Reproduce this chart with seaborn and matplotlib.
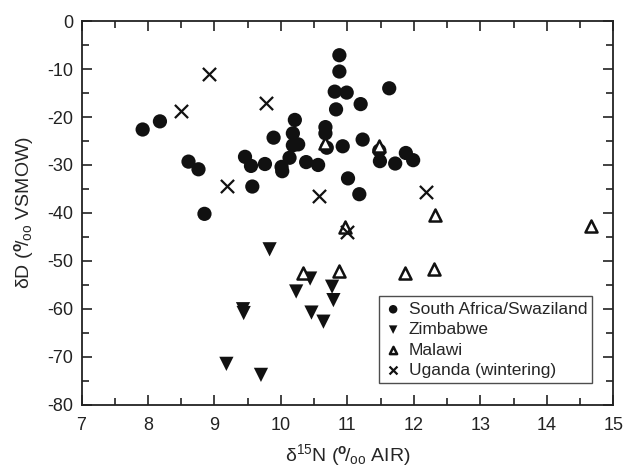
import matplotlib
matplotlib.use("Agg")
import matplotlib.pyplot as plt
import seaborn as sns
import numpy as np
from matplotlib.ticker import MultipleLocator

sns.set_style("ticks")
plt.rcParams['font.family'] = ['Liberation Sans', 'DejaVu Sans']
plt.rcParams['mathtext.fontset'] = 'custom'
plt.rcParams['mathtext.rm'] = 'Liberation Sans'
plt.rcParams['mathtext.it'] = 'Liberation Sans'
plt.rcParams['mathtext.bf'] = 'Liberation Sans:bold'
plt.rcParams['axes.unicode_minus'] = False

# South Africa/Swaziland
sa_x = [7.92, 8.18, 8.61, 8.76, 8.85, 9.46, 9.55, 9.57, 9.76, 9.89, 10.01, 10.02,
        10.13, 10.21, 10.18, 10.18, 10.26, 10.38, 10.56, 10.67, 10.67, 10.69, 10.88,
        10.88, 10.81, 10.99, 10.83, 11.20, 11.63, 10.93, 11.23, 11.48, 11.49, 11.72,
        11.88, 11.99, 11.01, 11.18]
sa_y = [-22.6, -20.9, -29.3, -30.9, -40.2, -28.3, -30.2, -34.5, -29.8, -24.3, -30.4, -31.3,
        -28.5, -20.6, -23.4, -25.9, -25.7, -29.4, -30.0, -22.1, -23.4, -26.4, -7.1,
        -10.5, -14.7, -14.9, -18.4, -17.3, -14.0, -26.1, -24.7, -27.0, -29.2, -29.7,
        -27.5, -29.0, -32.8, -36.1]
# Zimbabwe
zw_x = [9.83, 9.43, 9.44, 9.18, 9.70, 10.44, 10.23, 10.77, 10.79, 10.46, 10.64]
zw_y = [-47.6, -60.1, -60.9, -71.5, -73.8, -53.7, -56.4, -55.4, -58.2, -60.8, -62.7]
# Malawi
mw_x = [10.67, 11.48, 12.32, 14.67, 10.97, 10.33, 10.88, 11.87, 12.30]
mw_y = [-25.5, -26.1, -40.4, -42.7, -43.0, -52.6, -52.1, -52.5, -51.8]
# Uganda (wintering)
ug_x = [8.50, 8.92, 9.77, 9.19, 10.57, 12.18, 10.99]
ug_y = [-18.8, -11.1, -17.0, -34.3, -36.5, -35.7, -43.9]

labels = ["South Africa/Swaziland", "Zimbabwe", "Malawi", "Uganda (wintering)"]

fig = plt.figure(figsize=(6.27, 4.71), dpi=100)
ax = fig.add_axes([0.130, 0.141, 0.848, 0.814])

sns.scatterplot(x=sa_x, y=sa_y, marker='o', s=105, color='#111111', edgecolor='none',
                label=labels[0], ax=ax, zorder=3)
sns.scatterplot(x=zw_x, y=zw_y, marker='v', s=105, color='#111111', edgecolor='none',
                label=labels[1], ax=ax, zorder=3)
sns.scatterplot(x=mw_x, y=mw_y, marker='^', s=75, color='white', edgecolor='#111111',
                linewidth=1.8, label=labels[2], ax=ax, zorder=4)
sns.scatterplot(x=ug_x, y=ug_y, marker='x', s=90, color='#111111', linewidth=1.6,
                label=labels[3], ax=ax, zorder=5)

ax.set_xlim(7, 15)
ax.set_ylim(-80, 0)
ax.xaxis.set_major_locator(MultipleLocator(1))
ax.xaxis.set_minor_locator(MultipleLocator(0.5))
ax.yaxis.set_major_locator(MultipleLocator(10))
ax.yaxis.set_minor_locator(MultipleLocator(5))
ax.tick_params(which='both', direction='in', top=True, right=True, width=1.2,
               labelsize=13, colors='#222222')
ax.tick_params(which='major', length=7)
ax.tick_params(which='minor', length=5)
ax.tick_params(axis='x', pad=9)
ax.tick_params(axis='y', pad=6)
for sp in ax.spines.values():
    sp.set_linewidth(1.3)
    sp.set_color('#222222')

ax.set_xlabel('δ$^{15}$N ($^{\\mathbf{o}}\\!/_{\\mathrm{oo}}$ AIR)', fontsize=14, labelpad=6)
ax.set_ylabel('δD ($^{\\mathbf{o}}\\!/_{\\mathrm{oo}}$ VSMOW)', fontsize=14, labelpad=8)

leg = ax.legend(loc='lower right', bbox_to_anchor=(0.961, 0.056), frameon=True,
                fancybox=False, edgecolor='#222222', fontsize=12.5, markerscale=0.6,
                handletextpad=0.4, borderpad=0.3, labelspacing=0.3, handlelength=1.0,
                borderaxespad=0)
leg.get_frame().set_linewidth(1.0)

fig.savefig("out.png", dpi=100)
